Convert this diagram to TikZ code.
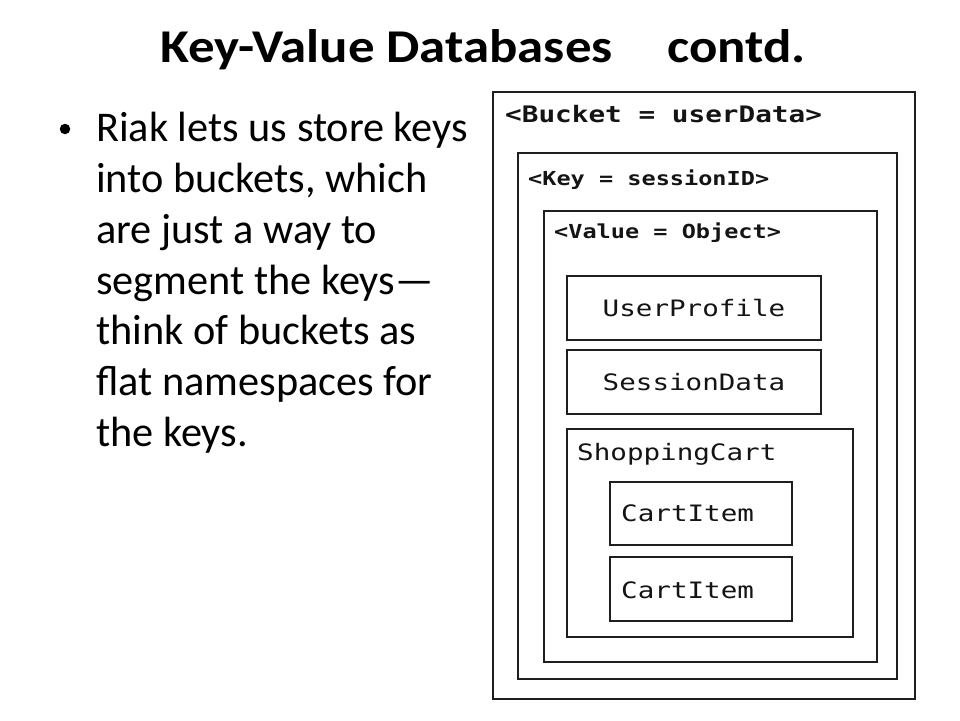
\documentclass[tikz,border=0pt]{standalone}
\usepackage{fontspec}
\setmainfont{Carlito}
\newfontfamily\dvmono{DejaVu Sans Mono}
\newcommand\monotxt[2]{{\dvmono\fontsize{#1}{#1}\selectfont\scalebox{1.22}[1]{#2}}}
\newcommand\monobold[2]{{\dvmono\bfseries\fontsize{#1}{#1}\selectfont\scalebox{1.22}[1]{#2}}}
\newcommand\widetitle[1]{\scalebox{1.125}[1]{#1}}
\begin{document}
\begin{tikzpicture}[x=1pt,y=-1pt,
  box/.style={draw=black!88, line width=2.4pt, inner sep=0pt, outer sep=0pt, anchor=north west},
  hdr/.style={anchor=base west, inner sep=0pt, text=black!92},
  lbl/.style={anchor=base, inner sep=0pt, text=black!92},
  bodyline/.style={anchor=base west, inner sep=0pt, font=\fontsize{42.3}{50}\selectfont},
  titletxt/.style={anchor=base west, inner sep=0pt, font=\bfseries\fontsize{47}{50}\selectfont}]
\useasboundingbox[fill=white] (0,0) rectangle (960,720);

% title
\node[titletxt] (t1) at (160,62) {\widetitle{Key-Value Databases}};
\node[titletxt] (t2) at (667,62) {\widetitle{contd.}};

% bullet text
\node[circle, fill=black, inner sep=0pt, minimum size=10.5pt] (bul) at (65,129) {};
\node[bodyline] (b1) at (96,141.7) {Riak lets us store keys};
\node[bodyline] (b2) at (96,192.5) {into buckets, which};
\node[bodyline] (b3) at (96,243.3) {are just a way to};
\node[bodyline] (b4) at (96,294.1) {segment the keys---};
\node[bodyline] (b5) at (96,344.9) {think of buckets as};
\node[bodyline] (b6) at (96,395.7) {flat namespaces for};
\node[bodyline] (b7) at (96,446.5) {the keys.};

% boxes
\node[box, minimum width=422pt, minimum height=607pt] (bucket) at (493,92) {};
\node[box, minimum width=379pt, minimum height=526pt] (key) at (518,153) {};
\node[box, minimum width=333pt, minimum height=451pt] (value) at (544,211) {};
\node[box, minimum width=254pt, minimum height=64pt] (userprofile) at (567,276) {};
\node[box, minimum width=254pt, minimum height=64pt] (sessiondata) at (567,350) {};
\node[box, minimum width=286pt, minimum height=208pt] (cart) at (567,429) {};
\node[box, minimum width=182pt, minimum height=63pt] (item1) at (610,482) {};
\node[box, minimum width=182pt, minimum height=64pt] (item2) at (610,557) {};

% labels
\node[hdr] (bucketlbl) at (505,122.5) {\monobold{22.7}{<Bucket = userData>}};
\node[hdr] (keylbl) at (528,185.5) {\monobold{19.3}{<Key = sessionID>}};
\node[hdr] (valuelbl) at (554,238.5) {\monobold{19.3}{<Value = Object>}};
\node[lbl] (uplbl) at (694,316.7) {\monotxt{22.6}{UserProfile}};
\node[lbl] (sdlbl) at (694,390.5) {\monotxt{22.6}{SessionData}};
\node[hdr] (cartlbl) at (577,460.7) {\monotxt{22.6}{ShoppingCart}};
\node[hdr] (i1lbl) at (621,521.7) {\monotxt{22.6}{CartItem}};
\node[hdr] (i2lbl) at (621,598.3) {\monotxt{22.6}{CartItem}};
\end{tikzpicture}
\end{document}
